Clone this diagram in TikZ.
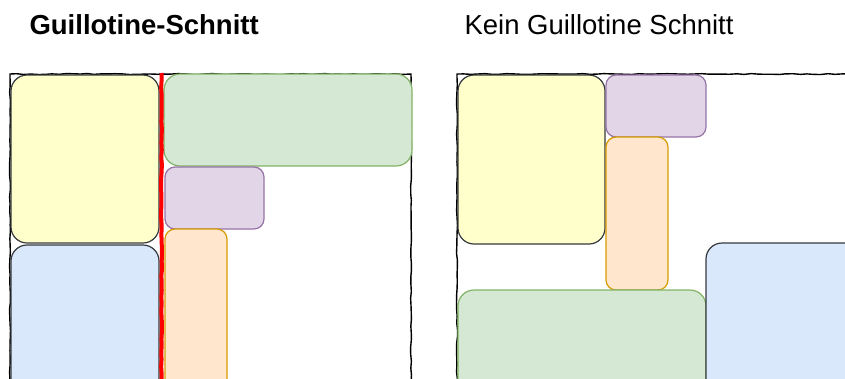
\documentclass[tikz,border=0pt]{standalone}
\usepackage{fontspec}
\setmainfont{Liberation Sans}
\usepackage{tikz}
\usetikzlibrary{decorations.pathmorphing}

\definecolor{gelbF}{HTML}{FFFFCC}
\definecolor{blauF}{HTML}{DAE8FC}
\definecolor{gruenF}{HTML}{D5E8D4}
\definecolor{gruenR}{HTML}{82B366}
\definecolor{lilaF}{HTML}{E1D5E7}
\definecolor{lilaR}{HTML}{9673A6}
\definecolor{orangeF}{HTML}{FFE6CC}
\definecolor{orangeR}{HTML}{D79B00}
\definecolor{dunkel}{HTML}{36393D}

\begin{document}
\begin{tikzpicture}[x=1pt, y=-1pt,
    skizze/.style={decorate, decoration={random steps, segment length=7pt, amplitude=0.5pt}},
    teil/.style={rounded corners=16pt, line width=1.2pt},
    klein/.style={rounded corners=10pt, line width=1.2pt},
    titel/.style={anchor=base west, font=\fontsize{27.5}{30}\selectfont}]
    \pgfmathsetseed{4711}
    \useasboundingbox (0,0) rectangle (845,378);
    \clip (0,0) rectangle (845,378);

    % Guillotine-Schnitt (links)
    \node (titelA) at (26,34) [titel, font=\bfseries\fontsize{27.5}{30}\selectfont] {Guillotine-Schnitt};
    \draw [skizze, line width=1.4pt] (10,400) -- (10,74) -- (411,74) -- (411,400);
    \filldraw [teil, fill=gelbF, draw=dunkel] (11,75) rectangle (159,243);
    \filldraw [teil, fill=blauF, draw=dunkel] (11,245) rectangle (159,395);
    \filldraw [teil, fill=gruenF, draw=gruenR] (164,74) rectangle (412,166);
    \filldraw [klein, fill=lilaF, draw=lilaR] (165,167) rectangle (264,229);
    \filldraw [klein, fill=orangeF, draw=orangeR] (165,229) rectangle (227,395);
    \coordinate (schnittOben) at (161.5,73);
    \coordinate (schnittUnten) at (161.5,400);
    \draw [skizze, red, line width=4pt] (schnittOben) -- (schnittUnten);

    % Kein Guillotine Schnitt (rechts)
    \node (titelB) at (461,34) [titel] {Kein Guillotine Schnitt};
    \draw [skizze, line width=1.4pt] (457,400) -- (457,74) -- (880,74);
    \filldraw [teil, fill=gelbF, draw=dunkel] (458,75) rectangle (605,244);
    \filldraw [klein, fill=lilaF, draw=lilaR] (606,75) rectangle (706,137);
    \filldraw [klein, fill=orangeF, draw=orangeR] (606,137) rectangle (668,290);
    \filldraw [teil, fill=gruenF, draw=gruenR] (458,290) rectangle (706,395);
    \filldraw [teil, fill=blauF, draw=dunkel] (706,243) rectangle (870,395);
\end{tikzpicture}
\end{document}
